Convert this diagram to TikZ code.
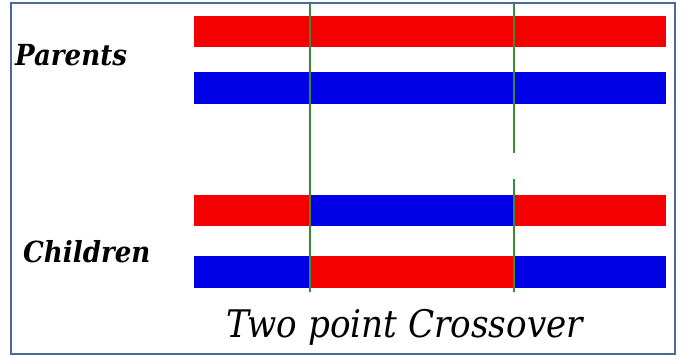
\documentclass[tikz,border=0pt]{standalone}
\usepackage{fontspec}
\setmainfont{DejaVu Serif}
\newfontfamily\condserif{DejaVu Serif Condensed}
\definecolor{framecol}{HTML}{4A6A9A}
\definecolor{redbar}{HTML}{F50000}
\definecolor{bluebar}{HTML}{0000E6}
\definecolor{cutgreen}{HTML}{3A8A3A}
\begin{document}
\begin{tikzpicture}[x=1pt,y=-1pt,
  seg/.style={draw=none},
  redseg/.style={seg,fill=redbar},
  blueseg/.style={seg,fill=bluebar},
  cutline/.style={draw=cutgreen,line width=1.4pt},
  label/.style={font=\condserif\fontsize{29}{32}\selectfont\bfseries\itshape,anchor=base west,inner sep=0pt},
  titletext/.style={font=\condserif\fontsize{38}{42}\selectfont\itshape,anchor=base west,inner sep=0pt}]
\useasboundingbox (0,0) rectangle (681,356);
\fill[white] (0,0) rectangle (681,356);
\draw[framecol,line width=1.6pt] (11,3) rectangle (675,354);
% parents
\fill[redseg]  (194,16) rectangle (310,47);
\fill[redseg]  (310,16) rectangle (514,47);
\fill[redseg]  (514,16) rectangle (666,47);
\fill[blueseg] (194,72) rectangle (310,104);
\fill[blueseg] (310,72) rectangle (514,104);
\fill[blueseg] (514,72) rectangle (666,104);
% children
\fill[redseg]  (194,195) rectangle (310,226);
\fill[blueseg] (310,195) rectangle (514,226);
\fill[redseg]  (514,195) rectangle (666,226);
\fill[blueseg] (194,256) rectangle (310,288);
\fill[redseg]  (310,256) rectangle (514,288);
\fill[blueseg] (514,256) rectangle (666,288);
% cut points
\coordinate (c1t) at (310,4);
\coordinate (c1b) at (310,292);
\coordinate (c2t) at (514,4);
\coordinate (c2m) at (514,153);
\coordinate (c2n) at (514,179);
\coordinate (c2b) at (514,292);
\draw[cutline] (c1t) -- (c1b);
\draw[cutline] (c2t) -- (c2m);
\draw[cutline] (c2n) -- (c2b);
% texts
\node[label] (parents) at (15,65) {Parents};
\node[label] (children) at (23,262) {Children};
\node[titletext] (title) at (226,337) {Two point Crossover};
\end{tikzpicture}
\end{document}
